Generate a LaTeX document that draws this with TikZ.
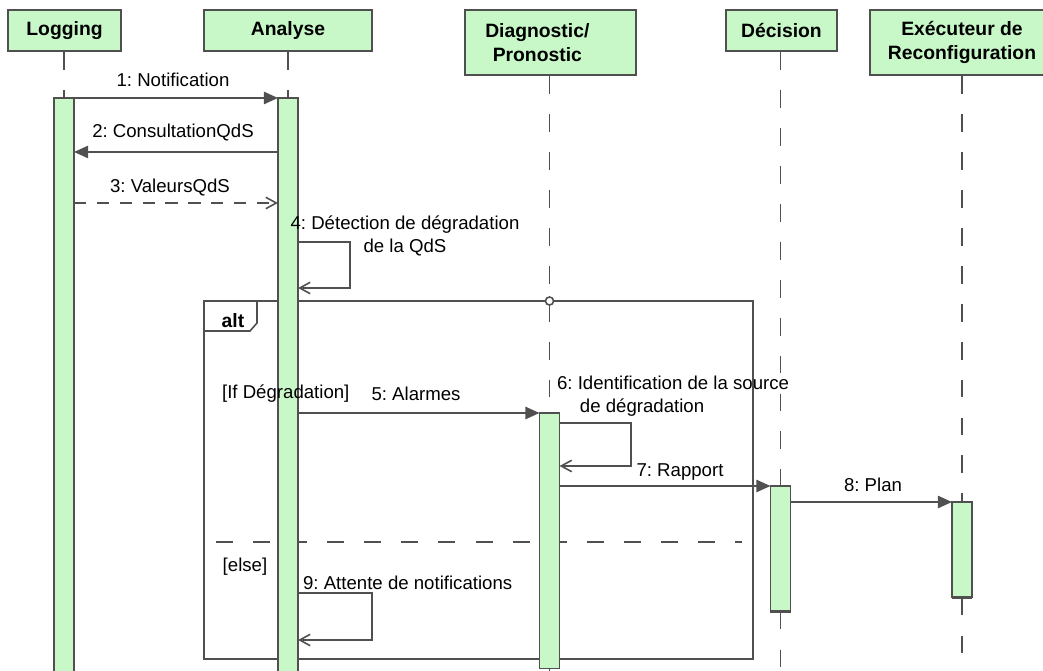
\documentclass[tikz,border=0pt]{standalone}
\usepackage{fontspec}
\setmainfont{Liberation Sans}
\usetikzlibrary{arrows.meta,positioning}

\definecolor{lifegreen}{RGB}{200,248,200}
\definecolor{umlgray}{RGB}{80,80,80}

\tikzset{
  objbox/.style={draw=umlgray, line width=1.1pt, fill=lifegreen, align=center, inner sep=0pt,
    font=\fontsize{11}{13.7}\selectfont\bfseries},
  actbar/.style={draw=umlgray, line width=0.9pt, fill=lifegreen, anchor=north, inner sep=0pt,
    minimum width=0.37cm},
  lifeline/.style={draw=umlgray, line width=0.9pt, dash pattern=on 10.2pt off 11.4pt},
  frame/.style={draw=umlgray, line width=0.9pt},
  msg/.style={draw=umlgray, line width=0.9pt, -{Triangle[length=8pt,width=7pt]}},
  reply/.style={draw=umlgray, line width=0.9pt, dash pattern=on 7pt off 6pt,
    -{Straight Barb[length=6pt,width=6.5pt]}},
  selfmsg/.style={draw=umlgray, line width=0.9pt, -{Straight Barb[length=6pt,width=6.5pt]}},
  lbl/.style={font=\fontsize{10.6}{13}\selectfont, inner sep=1pt},
}

\begin{document}
\frenchspacing
\begin{tikzpicture}[x=0.02cm, y=-0.02cm]
\useasboundingbox (0,0) rectangle (1043,671);
\clip (0,0) rectangle (1043,671);

% Objekte
\node[objbox, minimum width=2.26cm, minimum height=0.82cm] (log) at (64.5,30.5) {Logging};
\node[objbox, minimum width=3.36cm, minimum height=0.82cm] (ana) at (288,30.5) {Analyse};
\node[objbox, minimum width=3.42cm, minimum height=1.3cm] (dia) at (550.5,42.5) {Diagnostic/\hspace*{15pt}\\Pronostic\hspace*{15pt}};
\node[objbox, minimum width=2.22cm, minimum height=0.82cm] (dec) at (781.5,30.5) {Décision};
\node[objbox, minimum width=3.68cm, minimum height=1.3cm] (exe) at (962,42.5) {Exécuteur de\\Reconfiguration};

% Aktivierungen (nur Koordinaten, gezeichnet weiter unten)
\path (64,98) node[actbar, minimum height=11.8cm, draw=none, fill=none] (logact) {};
\path (288,98) node[actbar, minimum height=11.8cm, draw=none, fill=none] (anaact) {};
\path (549.5,413) node[actbar, minimum height=5.08cm, draw=none, fill=none] (diaact) {};
\path (780.5,486) node[actbar, minimum height=2.48cm, draw=none, fill=none] (decact) {};
\path (962,502) node[actbar, minimum height=1.88cm, draw=none, fill=none] (exeact) {};

% Lebenslinien
\draw[lifeline] (logact.north |- log.south) -- (logact.north);
\draw[lifeline] (ana.south) -- (anaact.north);
\draw[lifeline] (diaact.north |- dia.south) -- (diaact.north);
\draw[lifeline] (diaact.south) -- (diaact.south |- 0,680);
\draw[lifeline] (decact.north |- dec.south) -- (decact.north);
\draw[lifeline] (decact.south) -- (decact.south |- 0,680);
\draw[lifeline] (exe.south) -- (exeact.north);
\draw[lifeline] (exeact.south) -- (exeact.south |- 0,680);

% alt-Rahmen
\draw[frame] (204,301) rectangle (753,659);
\draw[frame] (204,331) -- (250,331) -- (257,323) -- (257,301);
\draw[frame, dash pattern=on 9.7pt off 11.4pt] (216,542) -- (742,542); % else
\draw[frame, fill=white] (549.5,301) circle (2.3pt);

% Balken
\foreach \b in {logact, anaact, diaact, decact, exeact}
  \draw[draw=umlgray, line width=0.9pt, fill=lifegreen] (\b.north west) rectangle (\b.south east);
\draw[umlgray, line width=1.8pt] (decact.south west) -- (decact.south east);
\draw[umlgray, line width=1.8pt] (exeact.south west) -- (exeact.south east);

% Nachrichten
\draw[msg] (logact.north east) -- (anaact.north west);
\draw[msg] (anaact.west |- 0,152) -- (logact.east |- 0,152);
\draw[reply] (logact.east |- 0,203) -- (anaact.west |- 0,203);
\draw[selfmsg] (anaact.east |- 0,242) -| (350,288) -- (anaact.east |- 0,288);
\draw[msg] (anaact.east |- diaact.north) -- (diaact.north west);
\draw[selfmsg] (diaact.east |- 0,423) -| (631,466) -- (diaact.east |- 0,466);
\draw[msg] (diaact.east |- decact.north) -- (decact.north west);
\draw[msg] (decact.east |- exeact.north) -- (exeact.north west);
\draw[selfmsg] (anaact.east |- 0,593) -| (372,640) -- (anaact.east |- 0,640);

% Beschriftungen
\node[lbl] (l1) at (173,80) {1: Notification};
\node[lbl] (l2) at (173,133) {2: ConsultationQdS};
\node[lbl] (l3) at (170,188) {3: ValeursQdS};
\node[lbl, align=center] (l4) at (405,236) {4: Détection de dégradation\\de la QdS};
\node[lbl, font=\fontsize{11}{13}\selectfont\bfseries] (alt) at (233,321) {alt};
\node[lbl, anchor=west] (g1) at (220,394) {[If Dégradation]};
\node[lbl] (l5) at (416,394) {5: Alarmes};
\node[lbl, anchor=west, align=left] (l6) at (555,396) {6: Identification de la source\\\hspace*{13pt}de dégradation};
\node[lbl] (l7) at (680,472) {7: Rapport};
\node[lbl] (l8) at (873,485) {8: Plan};
\node[lbl] (g2) at (245,567) {[else]};
\node[lbl, anchor=west] (l9) at (301,583) {9: Attente de notifications};

\end{tikzpicture}
\end{document}
